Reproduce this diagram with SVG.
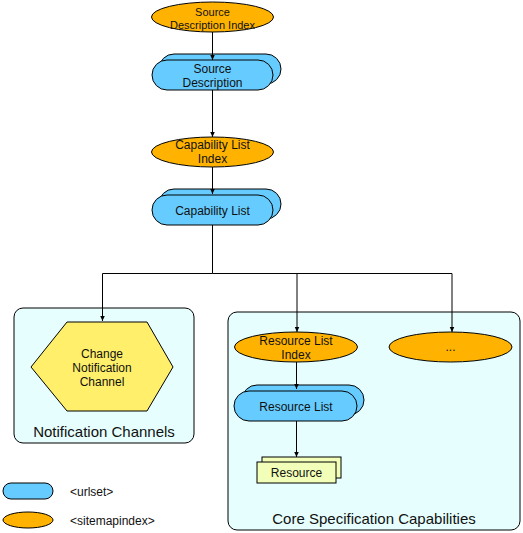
<svg xmlns="http://www.w3.org/2000/svg" width="523" height="533" viewBox="0 0 523 533">
<defs>
<style>
text{font-family:"Liberation Sans",Arial,sans-serif;font-size:12px;fill:#111;text-anchor:middle}
.idx{fill:#ffb300;stroke:#000;stroke-width:1}
.url{fill:#66ccff;stroke:#000;stroke-width:1}
.grp{fill:#e6fffe;stroke:#000;stroke-width:1}
.big{font-size:15px}
.sm{font-size:11px}
.leg{text-anchor:start}
.conn{fill:none;stroke:#000;stroke-width:1}
</style>
<marker id="arr" viewBox="0 0 6 6" refX="5.5" refY="3" markerWidth="6" markerHeight="6" markerUnits="userSpaceOnUse" orient="auto">
<path d="M0,0.5 L5.5,3 L0,5.5 z" fill="#000"/>
</marker>
</defs>
<rect width="523" height="533" fill="#fff"/>

<g id="group-notification">
<rect class="grp" x="14" y="308" width="180" height="135" rx="9"/>
<text class="big" x="104" y="437">Notification Channels</text>
</g>
<g id="group-core">
<rect class="grp" x="228" y="312" width="292" height="218" rx="9"/>
<text class="big" x="374" y="524">Core Specification Capabilities</text>
</g>

<g id="source-description-index">
<ellipse class="idx" cx="212.5" cy="17" rx="61" ry="15"/>
<text class="sm" x="212.5" y="15.5">Source</text>
<text class="sm" x="212.5" y="28.5">Description Index</text>
</g>

<g id="source-description">
<rect class="url" x="159" y="54" width="122" height="30" rx="15"/>
<rect class="url" x="152" y="60" width="121" height="30" rx="15"/>
<text x="212.5" y="73">Source</text>
<text x="212.5" y="86.5">Description</text>
</g>

<g id="capability-list-index">
<ellipse class="idx" cx="212.5" cy="152" rx="61" ry="15"/>
<text x="212.5" y="149">Capability List</text>
<text x="212.5" y="163">Index</text>
</g>

<g id="capability-list">
<rect class="url" x="159" y="189" width="122" height="30" rx="15"/>
<rect class="url" x="152" y="195" width="121" height="30" rx="15"/>
<text x="212.5" y="215">Capability List</text>
</g>

<g id="change-notification-channel">
<polygon points="31,367 67,322 147,322 173,367 147,411 67,411" fill="#ffef6b" stroke="#000" stroke-width="1"/>
<text x="102" y="358">Change</text>
<text x="102" y="372">Notification</text>
<text x="102" y="386">Channel</text>
</g>

<g id="resource-list-index">
<ellipse class="idx" cx="296" cy="347" rx="61.5" ry="15"/>
<text x="296" y="345">Resource List</text>
<text x="296" y="359">Index</text>
</g>

<g id="more">
<ellipse class="idx" cx="450.5" cy="347" rx="61.5" ry="15"/>
<text x="450.5" y="351">...</text>
</g>

<g id="resource-list">
<rect class="url" x="242" y="385" width="122" height="30" rx="15"/>
<rect class="url" x="234" y="391" width="123" height="30" rx="15"/>
<text x="296" y="411">Resource List</text>
</g>

<g id="resource">
<rect x="262" y="457" width="79" height="21" fill="#f2ffb8" stroke="#000" stroke-width="1"/>
<rect x="257" y="462" width="79" height="21" fill="#f2ffb8" stroke="#000" stroke-width="1"/>
<text x="296.5" y="477">Resource</text>
</g>

<g id="legend-urlset">
<rect class="url" x="3" y="483" width="50" height="16" rx="8"/>
<text class="leg" x="70" y="496">&lt;urlset&gt;</text>
</g>
<g id="legend-sitemapindex">
<ellipse class="idx" cx="28" cy="520" rx="25" ry="8"/>
<text class="leg" x="70" y="525">&lt;sitemapindex&gt;</text>
</g>

<g id="connectors">
<line class="conn" x1="212.5" y1="32" x2="212.5" y2="60" marker-end="url(#arr)"/>
<line class="conn" x1="212.5" y1="90" x2="212.5" y2="137" marker-end="url(#arr)"/>
<line class="conn" x1="212.5" y1="167" x2="212.5" y2="194" marker-end="url(#arr)"/>
<path class="conn" d="M212.5,225 V273.5 H102.5 V321" marker-end="url(#arr)"/>
<path class="conn" d="M212.5,273.5 H297 V332" marker-end="url(#arr)"/>
<path class="conn" d="M297,273.5 H452 V332" marker-end="url(#arr)"/>
<line class="conn" x1="296.5" y1="362" x2="296.5" y2="389" marker-end="url(#arr)"/>
<line class="conn" x1="296.5" y1="421" x2="296.5" y2="457" marker-end="url(#arr)"/>
</g>
</svg>
